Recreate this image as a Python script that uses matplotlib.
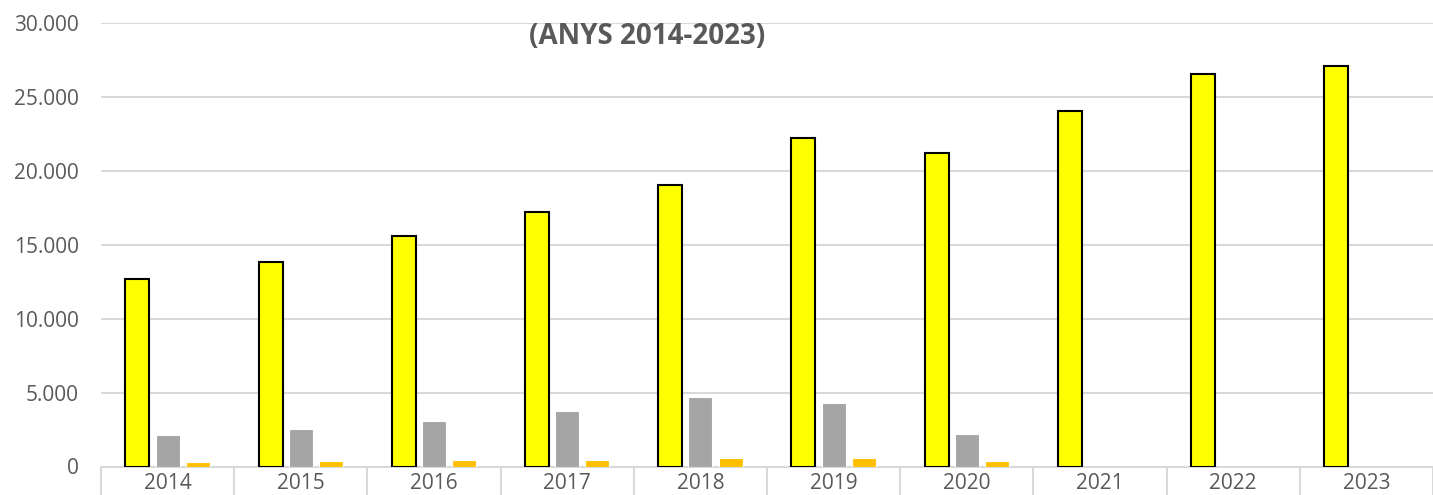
import matplotlib.pyplot as plt
import numpy as np

# Data
years = ["2014", "2015", "2016", "2017", "2018", "2019", "2020", "2021", "2022", "2023"]
serie_a = [12660, 13860, 15620, 17240, 19050, 22200, 21200, 24030, 26540, 27120]
serie_b = [2100, 2570, 3060, 3780, 4680, 4320, 2210, 0, 0, 0]
serie_c = [280, 350, 440, 460, 570, 570, 360, 0, 0, 0]

plt.rcParams['font.family'] = ['Open Sans', 'DejaVu Sans']

fig = plt.figure(figsize=(14.33, 4.95), dpi=100)
ax = fig.add_axes([101 / 1433, 1 - 466.5 / 495, 1 - 101 / 1433, (466.5 - 23) / 495])

x = np.arange(len(years))
w = 0.18
off = 0.227
ax.bar(x - off, serie_a, w, color="#FFFF00", edgecolor="black", linewidth=1.5, zorder=3)
ax.bar(x, [v if v else np.nan for v in serie_b], w, color="#A5A5A5", edgecolor="white", linewidth=0.8, zorder=3)
ax.bar(x + off, [v if v else np.nan for v in serie_c], w, color="#FFC000", edgecolor="white", linewidth=0.8, zorder=3)

ax.set_xlim(-0.5, len(years) - 0.5)
ax.set_ylim(0, 30000)
ax.set_yticks(np.arange(0, 30001, 5000))
ax.set_yticklabels([f"{int(v):,}".replace(",", ".") for v in np.arange(0, 30001, 5000)])
ax.yaxis.grid(True, color="#D9D9D9", linewidth=1.5, zorder=0)
ax.tick_params(axis="y", length=0, pad=16, labelsize=15, labelcolor="#595959")

ax.set_xticks(x)
ax.set_xticklabels(years)
ax.set_xticks(np.arange(-0.5, len(years)), minor=True)
ax.tick_params(axis="x", which="major", length=0, pad=5, labelsize=15, labelcolor="#595959")
ax.tick_params(axis="x", which="minor", length=30, width=1.5, color="#D9D9D9")

for s in ["top", "right", "left"]:
    ax.spines[s].set_visible(False)
ax.spines["bottom"].set_color("#D9D9D9")
ax.spines["bottom"].set_linewidth(1.5)

fig.text(647.5 / 1433, 1 - 37 / 495, "(ANYS 2014-2023)", ha="center", va="center",
         fontsize=20, fontweight="bold", color="#595959")

fig.savefig("out.png", dpi=100)
